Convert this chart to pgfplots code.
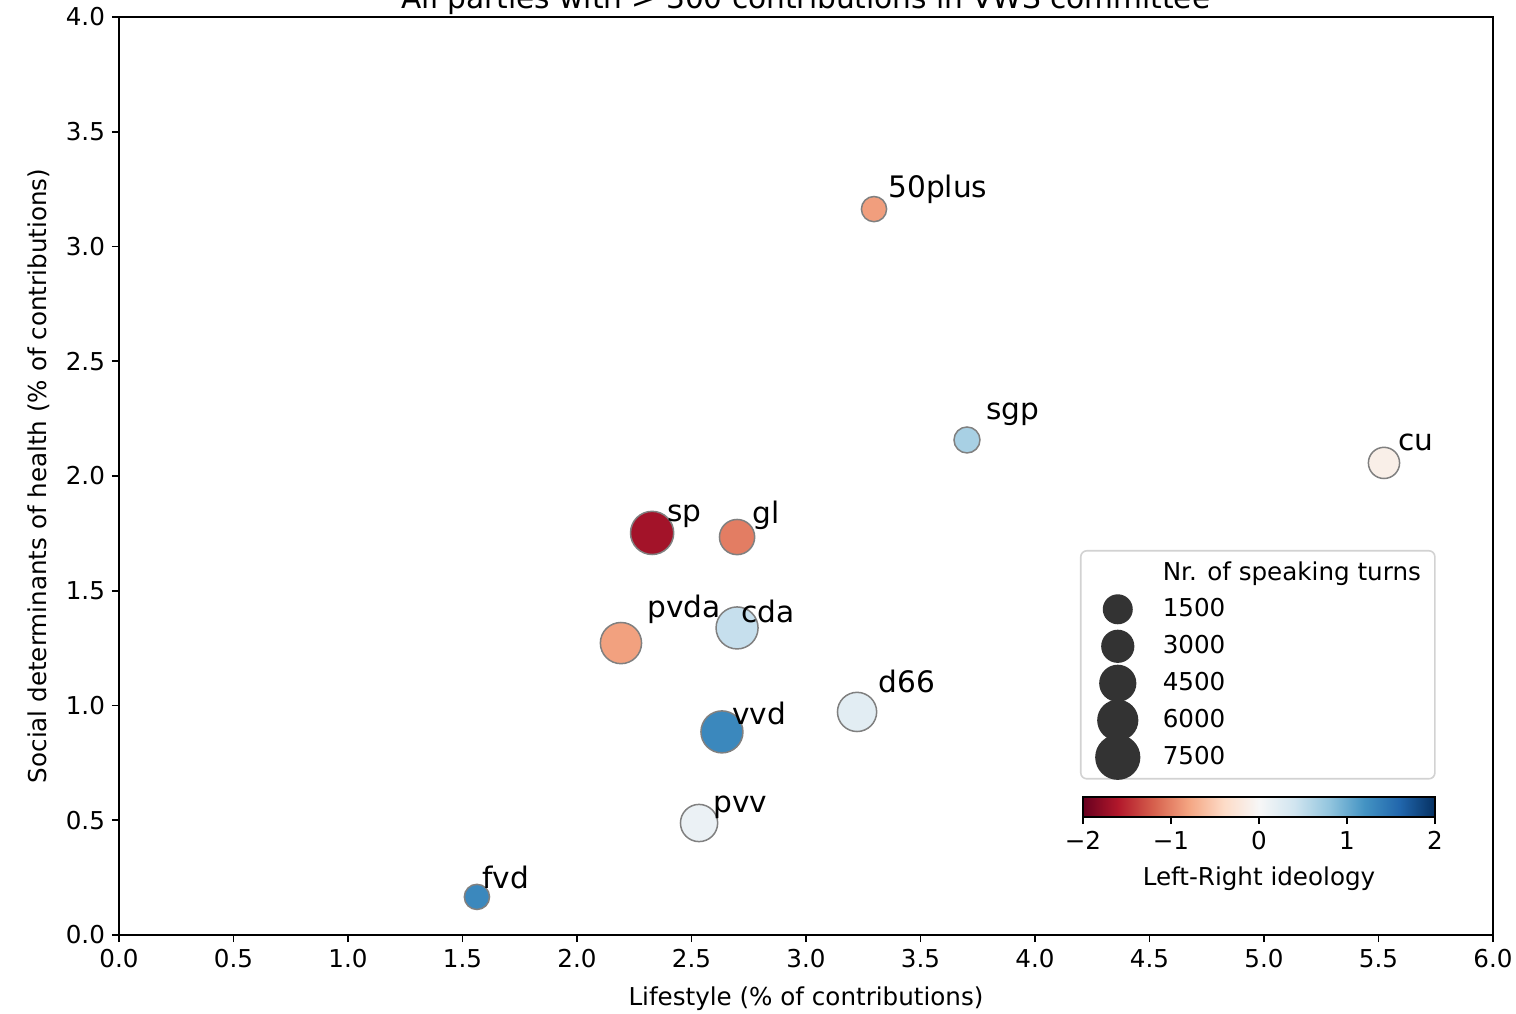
\documentclass[border=0pt]{standalone}
\usepackage{fontspec}
\setmainfont{DejaVu Sans}
\usepackage{pgfplots}
\pgfplotsset{compat=1.18}
\usepackage{pgfplotstable}

\definecolor{edgegray}{RGB}{128,128,128}
\definecolor{legdark}{RGB}{51,51,51}
\definecolor{legframe}{RGB}{210,210,210}

% party, lifestyle %, social determinants %, ideology, marker radius (pt), label offset (pt)
\pgfplotstableread{
party  x     y     ideo   r     dx   dy
50plus 3.297 3.163 -0.84  6.3   7    6
sgp    3.703 2.157  0.66  6.5   9.5  10
cu     5.524 2.057 -0.12  7.8   7    6
sp     2.328 1.752 -1.68 10.8   7.5  5.5
gl     2.699 1.734 -1.03  8.8   7.5  7
pvda   2.192 1.272 -0.82 10.3  13    13
cda    2.699 1.338  0.47 10.5   2    2.5
d66    3.223 0.972  0.22  9.8  10.5  9.5
vvd    2.633 0.885  1.30 10.5   5    3.5
pvv    2.533 0.488  0.13  9.3   7    5.5
fvd    1.563 0.166  1.30  6.3   2.5  4
}\parties

\pgfplotsset{
  sizekey/.style={legend image code/.code={%
      \fill[legdark, draw=none, overlay] (0pt,0pt) circle[radius=#1];
      \path[draw=none, fill=none] (-11.5pt,-9.25pt) rectangle (11.5pt,9.25pt);}},
  blankkey/.style={legend image code/.code={%
      \path[draw=none, fill=none] (-11.5pt,-9.25pt) rectangle (11.5pt,9.25pt);}},
}

\begin{document}
\begin{tikzpicture}[font=\fontsize{12.3}{14}\selectfont]
\begin{axis}[
  name=main,
  scale only axis,
  width=687pt, height=459pt,
  xmin=0, xmax=6, ymin=0, ymax=4,
  xtick={0,0.5,1,1.5,2,2.5,3,3.5,4,4.5,5,5.5,6},
  ytick={0,0.5,1,1.5,2,2.5,3,3.5,4},
  xtick pos=left, ytick pos=left,
  tick align=outside,
  major tick length=3.5pt,
  axis line style={line width=0.8pt},
  every tick/.style={black, line width=0.8pt},
  /pgf/number format/assume math mode=true,
  xticklabel style={/pgf/number format/.cd, fixed, fixed zerofill, precision=1},
  yticklabel style={/pgf/number format/.cd, fixed, fixed zerofill, precision=1},
  xlabel={Lifestyle (\% of contributions)},
  ylabel={Social determinants of health (\% of contributions)},
  xlabel style={at={(axis description cs:0.5,0)}, anchor=base, yshift=-35pt},
  ylabel style={at={(axis description cs:0,0.5)}, anchor=base, yshift=36pt},
  title={All parties with > 300 contributions in VWS committee},
  title style={at={(axis description cs:0.5,1)}, anchor=base, yshift=-2pt,
    font=\fontsize{14.8}{17}\selectfont},
  colormap={RdBu}{rgb255=(103,0,31) rgb255=(178,24,43) rgb255=(214,96,77)
    rgb255=(244,165,130) rgb255=(253,219,199) rgb255=(247,247,247)
    rgb255=(209,229,240) rgb255=(146,197,222) rgb255=(67,147,195)
    rgb255=(33,102,172) rgb255=(5,48,97)},
  point meta min=-2, point meta max=2,
  colorbar horizontal,
  colorbar shift/.style={xshift=482pt, yshift=69pt},
  colorbar style={
    at={(parent axis.south west)},
    anchor=north west,
    scale only axis,
    width=176pt, height=10pt,
    xtick={-2,-1,0,1,2},
    xticklabels={−2,−1,0,1,2},
    xtick pos=left,
    tick align=outside,
    major tick length=3.5pt,
    axis line style={line width=0.8pt},
    every tick/.style={black, line width=0.8pt},
    xlabel={Left-Right ideology},
    xlabel style={at={(axis description cs:0.5,0)}, anchor=base, yshift=-34pt},
  },
  legend style={
    at={(0.6994,0.4194)}, anchor=north west,
    draw=legframe, line width=0.8pt, rounded corners=3pt, fill=white,
    inner xsep=7pt, inner ysep=1.5pt,
    row sep=0pt, column sep=11pt,
    nodes={inner sep=0pt},
    font=\fontsize{12.3}{14}\selectfont,
  },
  legend cell align=left,
]

% coloured bubbles
\addplot[
  forget plot,
  scatter, only marks, mark=*,
  scatter src=explicit,
  scatter/use mapped color={draw=edgegray, fill=mapped color},
  line width=0.75pt,
  visualization depends on={\thisrow{r} \as \msize},
  scatter/@pre marker code/.append style={/tikz/mark size=\msize},
] table [x=x, y=y, meta=ideo] {\parties};

% party names
\addplot[
  forget plot,
  only marks, mark=none,
  point meta=explicit symbolic,
  visualization depends on={\thisrow{dx} \as \lbx},
  visualization depends on={\thisrow{dy} \as \lby},
  nodes near coords,
  nodes near coords style={anchor=base west, xshift=\lbx pt, yshift=\lby pt,
    inner sep=0pt, text=black, font=\fontsize{14.8}{17}\selectfont},
] table [x=x, y=y, meta=party] {\parties};

\addlegendimage{blankkey}
\addlegendentry{Nr. of speaking turns}
\addlegendimage{sizekey=7.5pt}
\addlegendentry{1500}
\addlegendimage{sizekey=8.3pt}
\addlegendentry{3000}
\addlegendimage{sizekey=9.3pt}
\addlegendentry{4500}
\addlegendimage{sizekey=10.3pt}
\addlegendentry{6000}
\addlegendimage{sizekey=11.3pt}
\addlegendentry{7500}

\coordinate (sw) at (rel axis cs:0,0);
\end{axis}
\pgfresetboundingbox
\path[use as bounding box] ([shift={(-59.5pt,-39pt)}]sw) rectangle ++(758pt,506.5pt);
\end{tikzpicture}
\end{document}
